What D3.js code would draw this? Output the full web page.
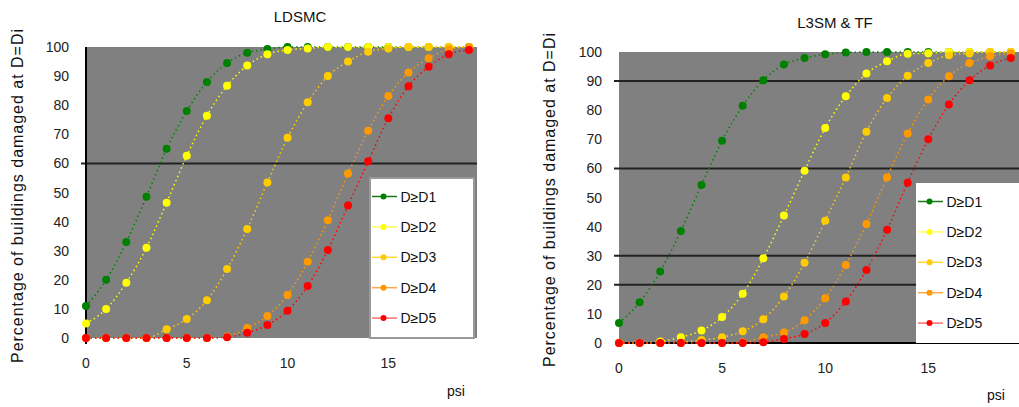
<!DOCTYPE html>
<html>
<head>
<meta charset="utf-8">
<script src="https://cdn.jsdelivr.net/npm/d3@7"></script>
<style>
  body { margin: 0; background: #fff; }
  svg { display: block; font-family: "Liberation Sans", Arial, sans-serif; }
</style>
</head>
<body>
<script>
// psi values (x) shared by every series
const psi = [0, 1, 2, 3, 4, 5, 6, 7, 8, 9, 10, 11, 12, 13, 14, 15, 16, 17, 18, 19];
const seriesNames = ["D≥D1", "D≥D2", "D≥D3", "D≥D4", "D≥D5"];
const seriesColors = ["#008000", "#ffff00", "#ffcc00", "#ff9900", "#ff0000"];
const legendLineColors = ["#1a7a1a", "#ffff66", "#ffd633", "#ffa64d", "#ff7070"];
const yTicks = [0, 10, 20, 30, 40, 50, 60, 70, 80, 90, 100];
const xTicks = [0, 5, 10, 15];

// left chart: LDSMC
const ldsmcD1 = [11, 20, 33, 48.5, 65, 78, 88, 94.5, 98, 99.3, 100, 100, 100, 100, 100, 100, 100, 100, 100, 100];
const ldsmcD2 = [5, 10, 19, 31, 46.5, 62.6, 76.4, 86.7, 93.6, 97.5, 99, 99.5, 100, 100, 100, 100, 100, 100, 100, 100];
const ldsmcD3 = [0, 0, 0, 0, 3, 6.5, 13, 23.7, 37.5, 53.4, 68.8, 81, 90, 95, 98.4, 99.5, 100, 100, 100, 100];
const ldsmcD4 = [0, 0, 0, 0, 0, 0, 0, 0.5, 3.4, 7.6, 14.8, 26.2, 40.5, 56.5, 71.2, 83.2, 91.2, 96.1, 99.2, 100];
const ldsmcD5 = [0, 0, 0, 0, 0, 0, 0, 0.3, 1.8, 4.5, 9.4, 17.9, 30.2, 45.5, 60.7, 75.5, 86.5, 93.2, 97.5, 99];

// right chart: L3SM & TF
const lbsmD1 = [6.9, 14, 24.6, 38.5, 54.3, 69.5, 81.5, 90.3, 95.7, 97.9, 99.2, 99.8, 100, 100, 100, 100, 100, 100, 100, 100];
const lbsmD2 = [0, 0, 0.5, 2, 4.3, 8.9, 16.9, 29.1, 43.8, 59.2, 73.9, 84.8, 92.6, 96.8, 99.4, 99.6, 100, 100, 100, 100];
const lbsmD3 = [0, 0, 0, 0.3, 1, 2, 4, 8.2, 16, 27.6, 42, 56.9, 72.6, 84.2, 91.8, 96.2, 98.9, 99.5, 100, 100];
const lbsmD4 = [0, 0, 0, 0, 0, 0, 0.3, 2, 3.6, 7.8, 15.4, 26.8, 40.9, 56.9, 72, 83.7, 91.7, 96.2, 98.5, 99.5];
const lbsmD5 = [0, 0, 0, 0, 0, 0, 0, 0.3, 1.4, 3.1, 6.9, 14.3, 25.1, 38.9, 55.1, 70, 82, 90.3, 95.4, 97.9];

const leftGrid = [60];
const rightGrid = [20, 30, 60, 90];

const width = 1019;
const height = 407;

const svg = d3.select("body")
    .append("svg")
    .attr("width", width)
    .attr("height", height);

function drawChart(cfg) {
    const x = d3.scaleLinear().domain([0, 19.4]).range([cfg.left, cfg.right]);
    const y = d3.scaleLinear().domain([0, 100]).range([cfg.bottom, cfg.top]);
    const g = svg.append("g");

    // gray plot area
    g.append("rect")
        .attr("x", x(0))
        .attr("y", y(100))
        .attr("width", x(19.4) - x(0))
        .attr("height", y(0) - y(100))
        .attr("fill", "#808080");

    // gridlines
    g.selectAll(".grid")
        .data(cfg.grid)
        .enter()
        .append("line")
        .attr("x1", x(0) - 5)
        .attr("x2", x(19.4))
        .attr("y1", d => y(d))
        .attr("y2", d => y(d))
        .attr("stroke", "#222")
        .attr("stroke-width", 2);

    if (cfg.vAxis) {
        g.append("line")
            .attr("x1", x(0)).attr("x2", x(0))
            .attr("y1", y(100)).attr("y2", y(0) + 6)
            .attr("stroke", "#000")
            .attr("stroke-width", 2);
    }
    if (cfg.hAxis) {
        g.append("line")
            .attr("x1", x(0)).attr("x2", x(19.4))
            .attr("y1", y(0)).attr("y2", y(0))
            .attr("stroke", "#000")
            .attr("stroke-width", 2);
    }

    // tick labels
    g.selectAll(".ytick")
        .data(yTicks)
        .enter()
        .append("text")
        .attr("x", x(0) - 17)
        .attr("y", d => y(d) + 5)
        .attr("text-anchor", "end")
        .attr("font-size", 14)
        .attr("fill", "#222")
        .text(d => d);

    g.selectAll(".xtick")
        .data(xTicks)
        .enter()
        .append("text")
        .attr("x", d => x(d))
        .attr("y", y(0) + cfg.xLabelOffset)
        .attr("text-anchor", "middle")
        .attr("font-size", 14)
        .attr("fill", "#222")
        .text(d => d);

    // title
    g.append("text")
        .attr("x", cfg.titleX)
        .attr("y", cfg.titleY)
        .attr("text-anchor", "middle")
        .attr("font-size", 15)
        .attr("fill", "#111")
        .text(cfg.title);

    // y axis label
    g.append("text")
        .attr("transform", `translate(${cfg.yLabelX},${cfg.yLabelY}) rotate(-90)`)
        .attr("text-anchor", "middle")
        .attr("font-size", 16)
        .attr("fill", "#111")
        .attr("textLength", 334)
        .attr("lengthAdjust", "spacing")
        .text("Percentage of buildings damaged at D=Di");

    g.append("text")
        .attr("x", cfg.psiX)
        .attr("y", cfg.psiY)
        .attr("font-size", 14)
        .attr("fill", "#111")
        .text("psi");

    // series
    const line = d3.line()
        .x((d, i) => x(psi[i]))
        .y(d => y(d))
        .curve(d3.curveMonotoneX);

    cfg.series.forEach((vals, k) => {
        g.append("path")
            .datum(vals)
            .attr("d", line)
            .attr("fill", "none")
            .attr("stroke", seriesColors[k])
            .attr("stroke-width", 1.5)
            .attr("stroke-dasharray", "1.5,3");
        g.selectAll(".pt" + k)
            .data(vals)
            .enter()
            .append("circle")
            .attr("cx", (d, i) => x(psi[i]))
            .attr("cy", d => y(d))
            .attr("r", 4)
            .attr("fill", seriesColors[k]);
    });

    // legend
    const lg = g.append("g");
    lg.append("rect")
        .attr("x", cfg.legX)
        .attr("y", cfg.legY)
        .attr("width", cfg.legW)
        .attr("height", cfg.legH)
        .attr("fill", "#fff")
        .attr("stroke", cfg.legBorder ? "#999" : "none")
        .attr("stroke-width", 2);

    seriesNames.forEach((name, k) => {
        const ly = cfg.legY + 18.5 + k * 30.4;
        lg.append("line")
            .attr("x1", cfg.legX + 2).attr("x2", cfg.legX + 27)
            .attr("y1", ly).attr("y2", ly)
            .attr("stroke", legendLineColors[k])
            .attr("stroke-width", 1.5);
        lg.append("circle")
            .attr("cx", cfg.legX + 13.5)
            .attr("cy", ly)
            .attr("r", 3)
            .attr("fill", seriesColors[k]);
        lg.append("text")
            .attr("x", cfg.legX + 30.5)
            .attr("y", ly + 5)
            .attr("font-size", 14)
            .attr("fill", "#111")
            .text(name);
    });
}

drawChart({
    left: 86, right: 477, top: 47, bottom: 338,
    grid: leftGrid, vAxis: true, hAxis: false,
    series: [ldsmcD1, ldsmcD2, ldsmcD3, ldsmcD4, ldsmcD5],
    title: "LDSMC", titleX: 300, titleY: 22,
    yLabelX: 23, yLabelY: 196,
    xLabelOffset: 30, psiX: 447, psiY: 396,
    legX: 370, legY: 178, legW: 104, legH: 160, legBorder: true
});

drawChart({
    left: 619, right: 1019, top: 52, bottom: 343,
    grid: rightGrid, vAxis: false, hAxis: true,
    series: [lbsmD1, lbsmD2, lbsmD3, lbsmD4, lbsmD5],
    title: "L3SM & TF", titleX: 835, titleY: 28,
    yLabelX: 555, yLabelY: 200,
    xLabelOffset: 30, psiX: 987, psiY: 400,
    legX: 916, legY: 183, legW: 110, legH: 160, legBorder: false
});
</script>
</body>
</html>
